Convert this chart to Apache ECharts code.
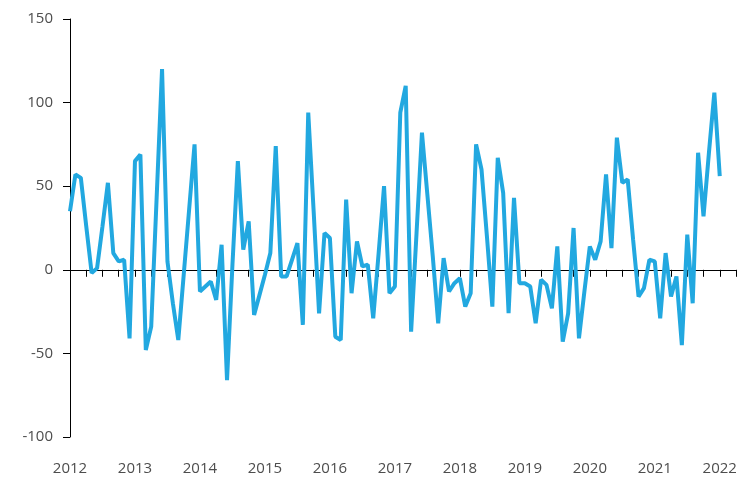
<!DOCTYPE html>
<html>
<head>
<meta charset="utf-8">
<script src="https://cdn.jsdelivr.net/npm/echarts@6/dist/echarts.min.js"></script>
<style>
  html, body { margin: 0; padding: 0; background: #fff; }
  #chart { width: 755px; height: 479px; }
</style>
</head>
<body>
<div id="chart"></div>
<script>
// years shown on the axis, months run Jan 2012 .. Apr 2022
const years = ['2012', '2013', '2014', '2015', '2016', '2017', '2018', '2019', '2020', '2021', '2022'];
const lastYearMonths = 4; // axis stops at April 2022

// monthly values, Jan 2012 .. Jan 2022
const values = [
  35, 57, 55, 26, -2, 1, 26, 52, 10, 5, 6, -41,
  65, 69, -48, -34, 43, 120, 5, -20, -42, -3, 36, 75,
  -13, -10, -7, -18, 15, -66, 3, 65, 12, 29, -27, -15,
  -3, 10, 74, -4, -4, 6, 16, -33, 94, 35, -26, 22,
  19, -40, -42, 42, -14, 17, 2, 3, -29, 10, 50, -14,
  -10, 94, 110, -37, 22, 82, 45, 8, -32, 7, -13, -8,
  -5, -22, -14, 75, 60, 20, -22, 67, 46, -26, 43, -8,
  -8, -10, -32, -6, -9, -23, 14, -43, -26, 25, -41, -13,
  14, 6, 17, 57, 13, 79, 52, 54, 18, -16, -11, 6,
  5, -29, 10, -16, -4, -45, 21, -20, 70, 32, 70, 106,
  56
];

const yTicks = { min: -100, max: 150, step: 50 };

// build month categories
const categories = [];
years.forEach((y, i) => {
  const n = i === years.length - 1 ? lastYearMonths : 12;
  for (let m = 1; m <= n; m++) {
    categories.push(y + '-' + String(m).padStart(2, '0'));
  }
});

const labelFont = {
  color: '#4d4d4d',
  fontSize: 15,
  fontFamily: 'Open Sans',
};

const chart = echarts.init(document.getElementById('chart'));
chart.setOption({
  animation: false,
  grid: { left: 70, right: 19, top: 19, bottom: 42, containLabel: false },
  xAxis: [
    {
      // axis line drawn through zero with quarterly ticks
      type: 'category',
      data: categories,
      boundaryGap: false,
      axisLine: { onZero: true, lineStyle: { color: '#000', width: 1 } },
      axisTick: {
        show: true,
        interval: (i) => i % 3 === 0,
        length: 7,
        lineStyle: { color: '#000' },
      },
      axisLabel: { show: false },
      splitLine: { show: false },
    },
    {
      // year labels along the bottom
      type: 'category',
      data: categories,
      position: 'bottom',
      boundaryGap: false,
      axisLine: { show: false, onZero: false },
      axisTick: { show: false },
      axisLabel: Object.assign({
        interval: (i) => i % 12 === 0,
        formatter: (v) => v.slice(0, 4),
        margin: 24,
      }, labelFont),
      splitLine: { show: false },
    },
  ],
  yAxis: {
    type: 'value',
    min: yTicks.min,
    max: yTicks.max,
    interval: yTicks.step,
    axisLine: { show: true, lineStyle: { color: '#000', width: 1 } },
    axisTick: { show: true, length: 7, lineStyle: { color: '#000' } },
    axisLabel: Object.assign({ margin: 17 }, labelFont),
    splitLine: { show: false },
  },
  series: [
    {
      type: 'line',
      xAxisIndex: 0,
      data: values,
      symbol: 'none',
      smooth: false,
      lineStyle: { color: '#22a8e0', width: 4 },
    },
  ],
});
</script>
</body>
</html>
